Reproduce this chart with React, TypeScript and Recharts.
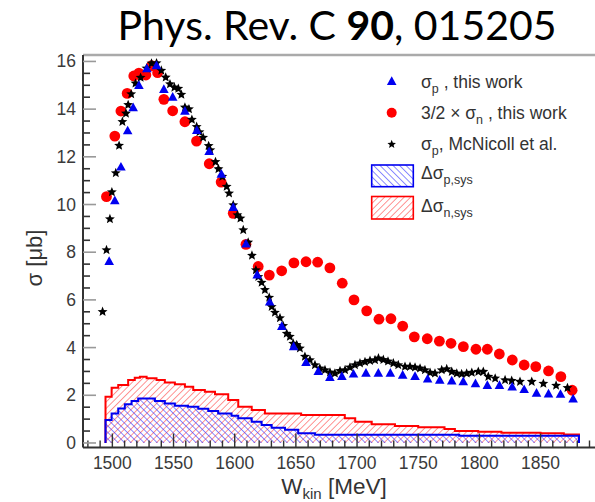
import React from 'react';
import { ComposedChart, Area, Scatter, XAxis, YAxis, ReferenceLine, Legend, Label } from 'recharts';

// ---------- axis ranges & ticks ----------
const X_MIN = 1476;
const X_MAX = 1894.5;
const Y_MIN = -0.19;
const Y_MAX = 16.27;

const xTicks = [1480, 1490, 1500, 1510, 1520, 1530, 1540, 1550, 1560, 1570, 1580, 1590, 1600, 1610, 1620, 1630, 1640, 1650, 1660, 1670, 1680, 1690, 1700, 1710, 1720, 1730, 1740, 1750, 1760, 1770, 1780, 1790, 1800, 1810, 1820, 1830, 1840, 1850, 1860, 1870, 1880, 1890];
const xLabels = [1500, 1550, 1600, 1650, 1700, 1750, 1800, 1850];
const yTicks = [0, 0.5, 1, 1.5, 2, 2.5, 3, 3.5, 4, 4.5, 5, 5.5, 6, 6.5, 7, 7.5, 8, 8.5, 9, 9.5, 10, 10.5, 11, 11.5, 12, 12.5, 13, 13.5, 14, 14.5, 15, 15.5, 16];
const yLabels = [0, 2, 4, 6, 8, 10, 12, 14, 16];

// ---------- data ----------
// sigma_p, this work (blue triangles)
const sigmaP = [
  { w: 1497.4, v: 7.6 }, { w: 1502.0, v: 10.15 }, { w: 1507.0, v: 11.56 }, { w: 1512.5, v: 13.08 },
  { w: 1517.0, v: 14.05 }, { w: 1521.7, v: 14.98 }, { w: 1528.2, v: 15.69 }, { w: 1536.1, v: 15.81 },
  { w: 1542.1, v: 14.82 }, { w: 1549.3, v: 14.49 }, { w: 1559.3, v: 13.9 }, { w: 1569.0, v: 13.1 },
  { w: 1579.1, v: 12.21 }, { w: 1589.1, v: 11.26 }, { w: 1598.8, v: 9.87 }, { w: 1609.2, v: 8.34 },
  { w: 1618.4, v: 7.04 }, { w: 1628.6, v: 5.9 }, { w: 1638.5, v: 4.88 }, { w: 1648.2, v: 4.03 },
  { w: 1658.3, v: 3.37 }, { w: 1668.3, v: 2.99 }, { w: 1677.8, v: 2.74 }, { w: 1687.6, v: 2.78 },
  { w: 1697.1, v: 2.88 }, { w: 1707.3, v: 2.92 }, { w: 1717.4, v: 2.92 }, { w: 1727.2, v: 2.92 },
  { w: 1737.3, v: 2.83 }, { w: 1747.4, v: 2.78 }, { w: 1757.7, v: 2.67 }, { w: 1767.6, v: 2.62 },
  { w: 1777.4, v: 2.59 }, { w: 1786.8, v: 2.56 }, { w: 1796.8, v: 2.48 }, { w: 1806.5, v: 2.4 },
  { w: 1816.4, v: 2.4 }, { w: 1826.8, v: 2.34 }, { w: 1836.6, v: 2.23 }, { w: 1846.7, v: 2.08 },
  { w: 1856.5, v: 2.05 }, { w: 1866.3, v: 2.03 }, { w: 1876.6, v: 1.84 },
];

// 3/2 x sigma_n, this work (red circles)
const sigmaN = [
  { w: 1495.2, v: 10.33 }, { w: 1502.0, v: 12.87 }, { w: 1507.0, v: 13.92 }, { w: 1512.1, v: 14.66 },
  { w: 1517.5, v: 15.39 }, { w: 1521.7, v: 15.51 }, { w: 1527.4, v: 15.43 }, { w: 1532.0, v: 15.82 },
  { w: 1537.0, v: 15.53 }, { w: 1542.1, v: 14.41 }, { w: 1549.3, v: 13.93 }, { w: 1559.3, v: 13.47 },
  { w: 1568.8, v: 12.66 }, { w: 1579.2, v: 11.71 }, { w: 1588.9, v: 10.94 }, { w: 1598.8, v: 9.63 },
  { w: 1609.2, v: 8.33 }, { w: 1619.2, v: 7.4 }, { w: 1628.3, v: 7.04 }, { w: 1638.4, v: 7.22 },
  { w: 1648.4, v: 7.55 }, { w: 1658.3, v: 7.6 }, { w: 1667.8, v: 7.58 }, { w: 1677.8, v: 7.34 },
  { w: 1687.9, v: 6.7 }, { w: 1697.5, v: 6.0 }, { w: 1707.9, v: 5.54 }, { w: 1717.9, v: 5.19 },
  { w: 1727.7, v: 5.21 }, { w: 1737.3, v: 4.9 }, { w: 1746.8, v: 4.45 }, { w: 1757.4, v: 4.37 },
  { w: 1767.3, v: 4.27 }, { w: 1776.8, v: 4.18 }, { w: 1786.9, v: 4.04 }, { w: 1797.2, v: 3.93 },
  { w: 1806.5, v: 3.93 }, { w: 1816.3, v: 3.73 }, { w: 1826.9, v: 3.48 }, { w: 1836.6, v: 3.27 },
  { w: 1846.1, v: 3.2 }, { w: 1856.5, v: 3.02 }, { w: 1866.6, v: 2.78 }, { w: 1875.8, v: 2.21 },
];

// sigma_p, McNicoll et al. (black stars)
const mcNicoll = [
  { w: 1492.0, v: 5.5 }, { w: 1495.2, v: 8.09 }, { w: 1498.0, v: 9.39 }, { w: 1499.6, v: 10.52 },
  { w: 1502.8, v: 11.32 }, { w: 1505.5, v: 12.47 }, { w: 1508.2, v: 13.47 }, { w: 1511.1, v: 13.82 },
  { w: 1512.9, v: 14.18 }, { w: 1515.4, v: 14.63 }, { w: 1518.9, v: 15.08 }, { w: 1523.1, v: 15.32 },
  { w: 1527.9, v: 15.71 }, { w: 1532.0, v: 15.92 }, { w: 1536.1, v: 15.93 }, { w: 1540.0, v: 15.62 },
  { w: 1543.6, v: 15.33 }, { w: 1547.1, v: 15.05 }, { w: 1550.7, v: 14.91 }, { w: 1553.9, v: 14.86 },
  { w: 1556.4, v: 14.61 }, { w: 1559.3, v: 14.07 }, { w: 1562.6, v: 14.0 }, { w: 1565.0, v: 13.56 },
  { w: 1568.9, v: 13.26 }, { w: 1571.2, v: 13.04 }, { w: 1574.2, v: 12.81 }, { w: 1578.7, v: 12.46 },
  { w: 1580.1, v: 12.28 }, { w: 1584.3, v: 11.79 }, { w: 1586.7, v: 11.49 }, { w: 1589.9, v: 11.17 },
  { w: 1593.4, v: 10.75 }, { w: 1595.4, v: 10.47 }, { w: 1598.8, v: 9.98 }, { w: 1602.2, v: 9.56 },
  { w: 1604.7, v: 9.42 }, { w: 1607.0, v: 8.93 }, { w: 1611.0, v: 8.41 }, { w: 1614.1, v: 7.86 },
  { w: 1617.3, v: 7.25 }, { w: 1619.3, v: 6.97 }, { w: 1622.0, v: 6.73 }, { w: 1624.7, v: 6.42 },
  { w: 1628.2, v: 6.1 }, { w: 1630.2, v: 5.71 }, { w: 1632.9, v: 5.47 }, { w: 1637.0, v: 5.24 },
  { w: 1639.6, v: 4.91 }, { w: 1642.5, v: 4.59 }, { w: 1645.1, v: 4.46 }, { w: 1647.8, v: 4.17 },
  { w: 1650.7, v: 4.11 }, { w: 1653.3, v: 3.97 }, { w: 1657.4, v: 3.62 }, { w: 1661.5, v: 3.48 },
  { w: 1665.6, v: 3.27 }, { w: 1669.6, v: 3.13 }, { w: 1673.8, v: 3.06 }, { w: 1677.9, v: 2.96 },
  { w: 1681.9, v: 2.92 }, { w: 1686.1, v: 3.02 }, { w: 1690.2, v: 3.06 }, { w: 1694.2, v: 3.17 },
  { w: 1698.3, v: 3.27 }, { w: 1702.4, v: 3.34 }, { w: 1706.5, v: 3.4 }, { w: 1710.6, v: 3.45 },
  { w: 1714.7, v: 3.48 }, { w: 1717.5, v: 3.55 }, { w: 1721.5, v: 3.49 }, { w: 1725.3, v: 3.42 },
  { w: 1729.7, v: 3.34 }, { w: 1733.7, v: 3.27 }, { w: 1739.2, v: 3.2 }, { w: 1743.3, v: 3.2 },
  { w: 1747.4, v: 3.17 }, { w: 1751.5, v: 3.13 }, { w: 1755.5, v: 3.06 }, { w: 1759.7, v: 2.95 },
  { w: 1763.7, v: 2.92 }, { w: 1769.2, v: 3.06 }, { w: 1773.3, v: 3.1 }, { w: 1777.4, v: 2.99 },
  { w: 1781.5, v: 2.92 }, { w: 1785.5, v: 2.89 }, { w: 1789.6, v: 2.92 }, { w: 1793.8, v: 2.95 },
  { w: 1799.1, v: 2.99 }, { w: 1803.2, v: 2.99 }, { w: 1807.3, v: 2.78 }, { w: 1812.9, v: 2.71 },
  { w: 1821.0, v: 2.64 }, { w: 1826.4, v: 2.61 }, { w: 1833.2, v: 2.57 }, { w: 1842.8, v: 2.57 },
  { w: 1852.3, v: 2.49 }, { w: 1862.7, v: 2.41 }, { w: 1872.0, v: 2.31 },
];

// systematic uncertainty histograms: bin lower edge and height
const sysP = [
  { w: 1494.4, v: 0.96 }, { w: 1499.4, v: 1.24 }, { w: 1504.8, v: 1.45 }, { w: 1510.2, v: 1.62 },
  { w: 1515.7, v: 1.76 }, { w: 1521.1, v: 1.87 }, { w: 1527.0, v: 1.86 }, { w: 1534.8, v: 1.76 },
  { w: 1542.9, v: 1.66 }, { w: 1551.1, v: 1.56 }, { w: 1561.8, v: 1.52 }, { w: 1570.2, v: 1.43 },
  { w: 1578.4, v: 1.34 }, { w: 1586.5, v: 1.24 }, { w: 1597.4, v: 1.14 }, { w: 1602.9, v: 1.04 },
  { w: 1613.9, v: 0.89 }, { w: 1622.0, v: 0.75 }, { w: 1630.2, v: 0.64 }, { w: 1641.1, v: 0.55 },
  { w: 1651.9, v: 0.41 }, { w: 1665.6, v: 0.34 }, { w: 1783.5, v: 0.3 },
];
const sysN = [
  { w: 1494.4, v: 1.94 }, { w: 1499.4, v: 2.32 }, { w: 1504.8, v: 2.43 }, { w: 1512.9, v: 2.64 },
  { w: 1518.3, v: 2.74 }, { w: 1522.5, v: 2.78 }, { w: 1528.0, v: 2.71 }, { w: 1536.1, v: 2.64 },
  { w: 1542.9, v: 2.54 }, { w: 1551.1, v: 2.46 }, { w: 1559.3, v: 2.36 }, { w: 1566.1, v: 2.22 },
  { w: 1575.6, v: 2.15 }, { w: 1583.9, v: 2.04 }, { w: 1594.7, v: 1.8 }, { w: 1602.9, v: 1.52 },
  { w: 1613.9, v: 1.38 }, { w: 1624.7, v: 1.24 }, { w: 1654.3, v: 1.17 }, { w: 1690.0, v: 1.04 },
  { w: 1698.5, v: 0.89 }, { w: 1712.0, v: 0.78 }, { w: 1731.0, v: 0.71 }, { w: 1750.0, v: 0.66 },
  { w: 1771.5, v: 0.59 }, { w: 1780.0, v: 0.5 }, { w: 1799.0, v: 0.47 }, { w: 1818.0, v: 0.43 },
  { w: 1850.0, v: 0.41 }, { w: 1869.0, v: 0.36 },
];
const SYS_END = 1881.4;

const legendLabels = {
  p: ['σ', 'p', ' , this work'],
  n: ['3/2 × σ', 'n', ' , this work'],
  mc: ['σ', 'p', ', McNicoll et al.'],
  dp: ['Δσ', 'p,sys'],
  dn: ['Δσ', 'n,sys'],
};

const histo = (bins: { w: number; v: number }[], end: number) => [
  { w: bins[0].w, v: 0 },
  ...bins,
  { w: end, v: bins[bins.length - 1].v },
  { w: end, v: 0 },
];

const sysPData = histo(sysP, SYS_END);
const sysNData = histo(sysN, SYS_END);

// ---------- styles ----------
const BLUE = '#0000f0';
const RED = '#ff0000';
const TICK_FONT = '"Liberation Sans", Arial, sans-serif';

const Triangle = (props: any) => {
  const { cx, cy } = props;
  if (cx == null || cy == null) return null;
  return <polygon points={`${cx},${cy - 5.4} ${cx - 4.8},${cy + 3.3} ${cx + 4.8},${cy + 3.3}`} fill={BLUE} />;
};
const Dot = (props: any) => {
  const { cx, cy } = props;
  if (cx == null || cy == null) return null;
  return <circle cx={cx} cy={cy} r={5.4} fill={RED} />;
};
const starPoints = (cx: number, cy: number, ro: number, ri: number) => {
  const pts: string[] = [];
  for (let i = 0; i < 10; i++) {
    const r = i % 2 === 0 ? ro : ri;
    const a = -Math.PI / 2 + (i * Math.PI) / 5;
    pts.push(`${cx + r * Math.cos(a)},${cy + r * Math.sin(a)}`);
  }
  return pts.join(' ');
};
const Star = (props: any) => {
  const { cx, cy } = props;
  if (cx == null || cy == null) return null;
  return <polygon points={starPoints(cx, cy, 5.2, 2.3)} fill="#000" />;
};

const YTick = (props: any) => {
  const { x, y, payload } = props;
  const v = payload.value;
  const major = yLabels.includes(v);
  return (
    <g>
      <line x1={x} x2={x + (major ? 13 : 7)} y1={y} y2={y} stroke={major ? '#999' : '#333'} strokeWidth={1.6} />
      {major && (
        <text x={x - 7} y={y + 6} textAnchor="end" fontSize={17.5} fill="#3a3a3a" fontFamily={TICK_FONT}>
          {v}
        </text>
      )}
    </g>
  );
};

const XTick = (props: any) => {
  const { x, y, payload } = props;
  const v = payload.value;
  const major = xLabels.includes(v);
  return (
    <g>
      <line x1={x} x2={x} y1={y} y2={y - (major ? 14 : 7)} stroke="#333" strokeWidth={1.4} />
      {major && (
        <text x={x} y={y + 21} textAnchor="middle" fontSize={17.5} fill="#3a3a3a" fontFamily={TICK_FONT}>
          {v}
        </text>
      )}
    </g>
  );
};

const HatchDefs = ({ prefix }: { prefix: string }) => (
  <defs>
    <pattern id={`${prefix}-blue`} patternUnits="userSpaceOnUse" width={4.6} height={4.6} patternTransform="rotate(-45)">
      <line x1={0} y1={0} x2={0} y2={4.6} stroke="#3030ff" strokeWidth={1.4} strokeOpacity={0.8} />
    </pattern>
    <pattern id={`${prefix}-red`} patternUnits="userSpaceOnUse" width={4.6} height={4.6} patternTransform="rotate(45)">
      <line x1={0} y1={0} x2={0} y2={4.6} stroke="#ff4040" strokeWidth={1.4} strokeOpacity={0.8} />
    </pattern>
  </defs>
);

const Sub = ({ parts, x, y }: { parts: string[]; x: number; y: number }) => (
  <text x={x} y={y} fontSize={17.5} fill="#333" fontFamily={TICK_FONT}>
    {parts[0]}
    <tspan dy={5} fontSize={12.5}>{parts[1]}</tspan>
    {parts[2] ? <tspan dy={-5}>{parts[2]}</tspan> : null}
  </text>
);

const LegendBox = () => (
  <svg width={228} height={170} style={{ display: 'block', overflow: 'visible' }}>
    <HatchDefs prefix="lg" />
    <Triangle cx={26.7} cy={21.7} />
    <Sub parts={legendLabels.p} x={56} y={27.5} />
    <circle cx={26.7} cy={52.7} r={5} fill={RED} />
    <Sub parts={legendLabels.n} x={56} y={58.5} />
    <polygon points={starPoints(26.7, 84.3, 4.5, 2)} fill="#000" />
    <Sub parts={legendLabels.mc} x={56} y={90} />
    <rect x={6.7} y={105} width={41.6} height={21.7} fill="url(#lg-blue)" stroke={BLUE} strokeWidth={1.6} />
    <Sub parts={legendLabels.dp} x={56} y={119} />
    <rect x={6.7} y={136.5} width={41.6} height={22.5} fill="url(#lg-red)" stroke={RED} strokeWidth={1.6} />
    <Sub parts={legendLabels.dn} x={56} y={151.5} />
  </svg>
);

export default function App() {
  return (
    <div style={{ position: 'absolute', left: 0, top: 0, width: 595, height: 502, background: '#fff' }}>
      <div
        style={{
          position: 'absolute',
          left: 0,
          top: 0,
          width: 674,
          textAlign: 'center',
          fontFamily: 'Lato, "Open Sans", sans-serif',
          fontSize: 41,
          lineHeight: '50px',
          color: '#000',
          whiteSpace: 'nowrap',
        }}
      >
        Phys. Rev. C <b>90</b>, 015205
      </div>
      <ComposedChart
        width={595}
        height={502}
        margin={{ top: 55, right: 0, bottom: 24.5, left: 23 }}
        style={{ position: 'absolute', left: 0, top: 0 }}
      >
        <HatchDefs prefix="pl" />
        <XAxis
          dataKey="w"
          type="number"
          domain={[X_MIN, X_MAX]}
          allowDataOverflow
          ticks={xTicks}
          interval={0}
          tickSize={0}
          tickMargin={0}
          tickLine={false}
          tick={<XTick />}
          height={30}
          axisLine={{ stroke: '#333', strokeWidth: 2 }}
        >
          <Label
            content={() => (
              <text x={334} y={494} textAnchor="middle" fontSize={22.5} fill="#333" fontFamily={TICK_FONT}>
                W<tspan dy={5} fontSize={15}>kin</tspan>
                <tspan dy={-5}> [MeV]</tspan>
              </text>
            )}
          />
        </XAxis>
        <YAxis
          dataKey="v"
          type="number"
          domain={[Y_MIN, Y_MAX]}
          allowDataOverflow
          ticks={yTicks}
          interval={0}
          tickSize={0}
          tickMargin={0}
          tickLine={false}
          tick={<YTick />}
          width={60}
          axisLine={{ stroke: '#333', strokeWidth: 2 }}
        >
          <Label
            content={() => (
              <text
                transform="translate(35,258) rotate(-90)"
                textAnchor="middle"
                dy={7}
                fontSize={22}
                fill="#333"
                fontFamily={TICK_FONT}
              >
                σ [μb]
              </text>
            )}
          />
        </YAxis>
        <ReferenceLine y={Y_MAX} stroke="#aaa" strokeWidth={2.5} ifOverflow="extendDomain" />
        <Area
          data={sysNData}
          dataKey="v"
          type="stepAfter"
          baseValue={0}
          stroke={RED}
          strokeWidth={2}
          fill="url(#pl-red)"
          fillOpacity={1}
          isAnimationActive={false}
          dot={false}
          activeDot={false}
        />
        <Area
          data={sysPData}
          dataKey="v"
          type="stepAfter"
          baseValue={0}
          stroke={BLUE}
          strokeWidth={2}
          fill="url(#pl-blue)"
          fillOpacity={1}
          isAnimationActive={false}
          dot={false}
          activeDot={false}
        />
        <Scatter data={sigmaN} dataKey="v" shape={<Dot />} isAnimationActive={false} />
        <Scatter data={mcNicoll} dataKey="v" shape={<Star />} isAnimationActive={false} />
        <Scatter data={sigmaP} dataKey="v" shape={<Triangle />} isAnimationActive={false} />
        <Legend
          layout="vertical"
          align="center"
          verticalAlign="middle"
          content={() => <LegendBox />}
          wrapperStyle={{ position: 'absolute', left: 365, top: 60, width: 228, height: 170 }}
        />
      </ComposedChart>
    </div>
  );
}
